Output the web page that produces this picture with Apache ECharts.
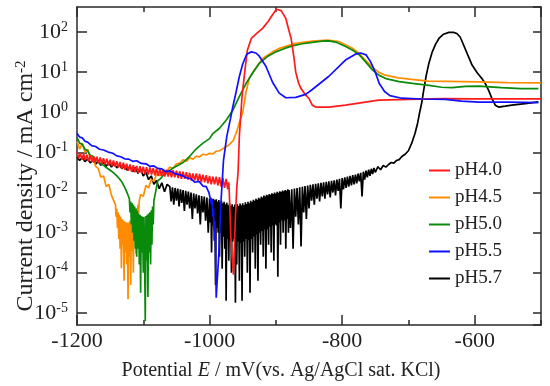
<!DOCTYPE html>
<html>
<head>
<meta charset="utf-8">
<script src="https://cdn.jsdelivr.net/npm/echarts@6/dist/echarts.min.js"></script>
<style>html,body{margin:0;padding:0;background:#fff}#c{width:550px;height:386px}</style>
</head>
<body>
<div id="c"></div>
<script>
// Potential E (mV) / current density (mA cm^-2)
const seriesNames = ['pH4.0', 'pH4.5', 'pH5.0', 'pH5.5', 'pH5.7'];
const seriesColors = ['#ff1a1a', '#ff8c00', '#0a8a0a', '#1010ff', '#000000'];
const xTicks = [-1200, -1000, -800, -600];

const ph40 = [[-1200,0.105],[-1197.5,0.07],[-1195,0.095],[-1192.5,0.066],[-1190,0.092],[-1187.5,0.064],[-1185,0.088],[-1182.5,0.06],[-1180,0.085],[-1177.5,0.058],[-1175,0.08],[-1172.5,0.056],[-1170,0.078],[-1167.5,0.054],[-1165,0.075],[-1162.5,0.052],[-1160,0.072],[-1157.5,0.05],[-1155,0.07],[-1152.5,0.048],[-1150,0.066],[-1147.5,0.046],[-1145,0.063],[-1142.5,0.044],[-1140,0.06],[-1137.5,0.042],[-1135,0.058],[-1132.5,0.039],[-1130,0.055],[-1127.5,0.037],[-1125,0.052],[-1122.5,0.035],[-1120,0.05],[-1117.5,0.033],[-1115,0.048],[-1112.5,0.032],[-1110,0.046],[-1107.5,0.031],[-1105,0.045],[-1102.5,0.03],[-1100,0.044],[-1097.5,0.029],[-1095,0.043],[-1092.5,0.028],[-1090,0.042],[-1087.5,0.028],[-1085,0.041],[-1082.5,0.027],[-1080,0.04],[-1077.5,0.026],[-1075,0.039],[-1072.5,0.026],[-1070,0.038],[-1067.5,0.025],[-1065,0.037],[-1062.5,0.025],[-1060,0.036],[-1057.5,0.024],[-1055,0.036],[-1052.5,0.024],[-1050,0.035],[-1047.5,0.023],[-1045,0.034],[-1042.5,0.022],[-1040,0.033],[-1037.5,0.022],[-1035,0.032],[-1032.5,0.021],[-1030,0.031],[-1027.5,0.02],[-1025,0.03],[-1022.5,0.02],[-1020,0.03],[-1017.5,0.019],[-1015,0.029],[-1012.5,0.018],[-1010,0.028],[-1007.5,0.018],[-1005,0.027],[-1002.5,0.017],[-1000,0.026],[-997.5,0.016],[-995,0.025],[-992.5,0.016],[-990,0.025],[-987.5,0.015],[-985,0.024],[-982.5,0.014],[-980,0.023],[-977.5,0.013],[-975,0.022],[-972.5,0.012],[-971,0.018],[-969.5,5.0e-3],[-968,8.0e-4],[-966,2.5e-4],[-964,9.0e-5],[-963,3.0e-4],[-961,2.5e-3],[-959,1.3e-2],[-957,3.2e-2],[-955,2.7e-1],[-951,2.5],[-947,10],[-943,35],[-937,69],[-928,95],[-920,123],[-912,180],[-905,270],[-899,370],[-896,390],[-892,340],[-885,219],[-881,120],[-877,69],[-873,25],[-870,10],[-866,5.5],[-862,3.9],[-856,2.8],[-850,2.2],[-845,1.5],[-840,1.35],[-820,1.35],[-795,1.5],[-745,2.0],[-700,2.1],[-645,2.2],[-600,2.15],[-500,2.15]];

const ph45 = [[-1200,1.9e-1],[-1196,1.2e-1],[-1192,1.7e-1],[-1188,1.0e-1],[-1184,1.2e-1],[-1180,7.0e-2],[-1176,8.0e-2],[-1172,4.5e-2],[-1168,4.0e-2],[-1164,2.4e-2],[-1160,2.6e-2],[-1156,1.4e-2],[-1152,1.6e-2],[-1148,8.5e-3],[-1145,8.0e-3],
[-1142,5.0e-3],[-1141,2.5e-3],[-1140,4.0e-3],[-1139,1.3e-3],[-1138,3.2e-3],[-1137,7.0e-4],[-1136,2.8e-3],[-1135,4.0e-4],[-1134,2.5e-3],[-1133,1.3e-4],[-1132,2.2e-3],[-1131,5.0e-4],[-1130,2.0e-3],[-1129,6.3e-5],[-1128,1.9e-3],[-1127,3.2e-4],[-1126,1.8e-3],[-1125,1.6e-4],[-1124,1.8e-3],[-1123,2.2e-5],[-1122,1.8e-3],[-1121,2.5e-4],[-1120,2.0e-3],[-1119,5.0e-5],[-1118,2.0e-3],[-1117,3.5e-4],[-1116,2.4e-3],[-1115,1.0e-4],[-1114,2.8e-3],[-1113,6.0e-4],[-1112,3.2e-3],[-1111,3.0e-4],[-1110,4.0e-3],[-1109,1.3e-3],[-1108,5.0e-3],[-1107,3.0e-3],[-1106,6.3e-3],[-1104,9.0e-3],
[-1100,8.0e-3],[-1096,1.5e-2],[-1092,1.3e-2],[-1088,2.1e-2],[-1084,1.9e-2],[-1080,2.9e-2],[-1075,2.6e-2],[-1070,3.6e-2],[-1065,3.3e-2],[-1060,4.3e-2],[-1055,3.9e-2],[-1050,5.2e-2],[-1045,5.4e-2],[-1040,6.5e-2],[-1035,6.0e-2],[-1030,7.3e-2],[-1025,6.8e-2],[-1020,8.1e-2],[-1015,7.7e-2],[-1010,9.0e-2],[-1005,8.6e-2],[-1000,9.5e-2],[-995,9.2e-2],[-990,1.07e-1],[-985,1.1e-1],[-980,1.23e-1],[-970,1.58e-1],[-964,2.0e-1],[-960,3.0e-1],[-957,4.3e-1],[-954,6.3e-1],[-950,1.0],[-945,3.2],[-940,7.1],[-933,11],[-920,22],[-905,32],[-895,39],[-870,52],[-845,59],[-822,63],[-805,58],[-795,48],[-785,40],[-775,30],[-765,20],[-755,13.5],[-745,10],[-735,8.4],[-715,7.2],[-695,6.6],[-670,6.0],[-640,5.9],[-595,5.75],[-550,5.5],[-500,5.4]];

const ph50 = [[-1200,2.34e-1],[-1196,1.7e-1],[-1192,1.6e-1],[-1188,1.2e-1],[-1184,1.1e-1],[-1180,8.5e-2],[-1176,8.0e-2],[-1172,6.6e-2],[-1168,6.0e-2],[-1164,5.2e-2],[-1160,4.8e-2],[-1156,4.2e-2],[-1152,3.8e-2],[-1148,3.4e-2],[-1144,3.0e-2],[-1140,2.6e-2],[-1136,2.2e-2],[-1132,1.8e-2],[-1128,1.35e-2],[-1124,9.5e-3],
[-1121,7.0e-3],[-1120,3.2e-3],[-1119,6.0e-3],[-1118,1.6e-3],[-1117,5.5e-3],[-1116,1.0e-3],[-1115,5.0e-3],[-1114,6.3e-4],[-1113,4.5e-3],[-1112,4.0e-4],[-1111,4.0e-3],[-1110,2.5e-4],[-1109,3.5e-3],[-1108,4.0e-4],[-1107,3.0e-3],[-1106,1.6e-4],[-1105,2.8e-3],[-1104,3.2e-5],[-1103,2.6e-3],[-1102,3.2e-4],[-1101,2.5e-3],[-1100,1.0e-4],[-1099,2.5e-3],[-1098,2.5e-4],[-1097,6.3e-6],[-1096,2.6e-3],[-1095,2.0e-4],[-1094,2.8e-3],[-1093,2.5e-5],[-1092,3.0e-3],[-1091,3.2e-4],[-1090,3.2e-3],[-1089,1.6e-4],[-1088,3.6e-3],[-1087,5.0e-4],[-1086,4.5e-3],[-1085,1.6e-3],[-1084,6.3e-3],[-1083,7.6e-3],
[-1078,2.0e-2],[-1074,2.2e-2],[-1068,3.0e-2],[-1063,3.2e-2],[-1056,4.0e-2],[-1048,4.7e-2],[-1040,5.6e-2],[-1030,8.0e-2],[-1020,1.23e-1],[-1010,1.7e-1],[-1000,2.2e-1],[-995,2.95e-1],[-985,4.0e-1],[-975,6.3e-1],[-965,1.12],[-955,2.5],[-945,5.2],[-935,9.5],[-925,16.6],[-912,25],[-900,32],[-887,39],[-875,45],[-860,51],[-845,55],[-830,59],[-820,60],[-808,55],[-794,43],[-784,35],[-774,27],[-764,17.5],[-754,11.2],[-744,8.3],[-734,6.9],[-714,5.8],[-694,5.25],[-669,4.7],[-650,4.2],[-634,4.1],[-614,4.4],[-594,4.5],[-560,4.1],[-530,3.9],[-504,3.9]];

const ph55 = [[-1200,3.0e-1],[-1196,2.4e-1],[-1192,2.3e-1],[-1188,1.9e-1],[-1184,1.8e-1],[-1178,1.48e-1],[-1172,1.4e-1],[-1166,1.2e-1],[-1160,1.15e-1],[-1153,1.02e-1],[-1146,9.5e-2],[-1140,8.2e-2],[-1134,7.8e-2],[-1128,6.9e-2],[-1122,6.8e-2],[-1116,6.0e-2],[-1110,6.2e-2],[-1103,5.3e-2],[-1096,5.2e-2],[-1090,4.5e-2],[-1084,4.6e-2],[-1078,4.0e-2],[-1072,3.9e-2],[-1066,3.3e-2],[-1060,3.5e-2],[-1053,3.0e-2],[-1046,2.8e-2],[-1040,2.6e-2],[-1034,2.3e-2],[-1028,2.2e-2],[-1022,1.8e-2],[-1016,1.9e-2],[-1010,1.45e-2],[-1005,1.4e-2],[-1001,1.0e-2],[-999,1.12e-2],[-997,5.0e-3],[-996,7.0e-3],[-995,2.5e-3],[-994,4.0e-3],[-993,6.3e-4],[-992,2.0e-3],[-991,4.0e-4],[-990,2.4e-5],[-988.5,2.6e-5],[-986,3.0e-4],[-983,5.2e-3],[-979,6.3e-2],[-974,2.5e-1],[-969,6.3e-1],[-965,1.35],[-960,3.2],[-955,7.9],[-950,16],[-944,28],[-937,32],[-930,30],[-925,25],[-915,14],[-905,5.6],[-895,3.0],[-885,2.3],[-870,2.35],[-855,2.8],[-845,3.7],[-820,7.9],[-795,20],[-780,28],[-772,30],[-764,27],[-757,18],[-750,10],[-744,5.2],[-736,3.3],[-728,2.6],[-710,2.24],[-680,2.14],[-644,2.1],[-620,1.9],[-594,1.8],[-550,1.78],[-504,1.74]];

const ph57 = [[-1200,7.6e-2],[-1196,6.3e-2],[-1192,7.4e-2],[-1188,5.9e-2],[-1184,6.9e-2],[-1180,5.5e-2],[-1176,6.4e-2],[-1172,5.1e-2],[-1168,6.0e-2],[-1164,4.8e-2],[-1160,5.7e-2],[-1156,4.5e-2],[-1152,5.5e-2],[-1148,4.3e-2],[-1144,5.3e-2],[-1140,4.1e-2],[-1136,5.0e-2],[-1132,3.9e-2],[-1128,4.7e-2],[-1124,3.6e-2],[-1120,4.5e-2],[-1116,3.3e-2],[-1112,4.2e-2],[-1108,3.0e-2],[-1104,3.8e-2],[-1100,2.6e-2],[-1096,3.2e-2],[-1092,2.1e-2],[-1088,2.6e-2],[-1084,1.6e-2],[-1080,2.0e-2],[-1076,1.25e-2],[-1072,1.75e-2],[-1068,1.05e-2],[-1064,1.6e-2],
[-1060,1.4e-2],[-1058,6.0e-3],[-1056,1.35e-2],[-1054,5.0e-3],[-1052,1.3e-2],[-1050,6.3e-3],[-1048,1.25e-2],[-1046,4.5e-3],[-1044,1.2e-2],[-1042,5.5e-3],[-1040,1.15e-2],[-1038,3.5e-3],[-1036,1.1e-2],[-1034,5.0e-3],[-1032,1.05e-2],[-1030,4.0e-3],[-1028,1.0e-2],[-1026,2.2e-3],[-1024,9.5e-3],[-1022,4.0e-3],[-1020,9.0e-3],[-1018,3.0e-3],[-1016,8.5e-3],[-1014,1.6e-3],[-1012,8.2e-3],[-1010,3.2e-3],[-1008,7.9e-3],[-1006,2.0e-3],[-1004,7.5e-3],[-1002,1.0e-3],
[-1000,7.1e-3],[-999,1.8e-3],[-998,7.4e-3],[-997,3.2e-4],[-996,6.6e-3],[-995,1.5e-3],[-994,7.0e-3],[-993,1.2e-3],[-992,6.4e-3],[-991,5.0e-5],[-990,6.8e-3],[-989,1.3e-3],[-988,6.0e-3],[-987,1.0e-3],[-986,6.5e-3],[-985,2.5e-4],[-984,5.7e-3],[-983,1.0e-3],[-982,6.2e-3],[-981,1.26e-4],[-980,5.4e-3],[-979,8.0e-4],[-978,5.9e-3],[-977,4.0e-4],[-976,5.1e-3],[-975,2.0e-5],[-974,5.6e-3],[-973,7.0e-4],[-972,4.8e-3],[-971,2.0e-4],[-970,5.3e-3],[-969,6.3e-4],[-968,4.6e-3],[-967,1.0e-4],[-966,5.1e-3],[-965,6.0e-4],[-964,4.4e-3],[-963,7.0e-4],[-962,5.0e-3],[-961,1.8e-5],[-960,4.4e-3],[-959,1.6e-4],[-958,5.1e-3],[-957,6.0e-4],[-956,4.6e-3],[-955,6.3e-5],[-954,5.3e-3],[-953,5.6e-4],[-952,4.8e-3],[-951,2.0e-5],[-950,5.4e-3],[-949,6.0e-4],[-948,4.9e-3],[-947,2.5e-4],[-946,5.7e-3],[-945,7.0e-4],[-944,5.2e-3],[-943,1.0e-4],[-942,5.9e-3],[-941,6.5e-4],[-940,5.4e-3],[-939,3.2e-5],[-938,6.2e-3],[-937,7.0e-4],[-936,5.8e-3],[-935,3.2e-4],[-934,6.6e-3],[-933,8.0e-4],[-932,6.2e-3],[-931,1.26e-4],[-930,7.0e-3],[-929,9.0e-4],[-928,6.6e-3],[-927,6.3e-5],[-926,7.4e-3],[-925,1.0e-3],[-924,7.0e-3],[-923,5.0e-4],[-922,7.9e-3],[-921,1.1e-3],[-920,7.5e-3],[-919,2.5e-4],[-918,8.4e-3],[-917,1.2e-3],[-916,8.0e-3],[-915,1.26e-4],[-914,8.8e-3],[-913,1.2e-3],[-912,8.4e-3],[-911,5.0e-4],[-910,9.2e-3],[-909,1.4e-3],[-908,8.8e-3],[-907,3.2e-4],[-906,9.6e-3],[-905,1.5e-3],[-904,9.2e-3],[-903,2.0e-4],[-902,1.0e-2],[-901,1.6e-3],[-900,9.5e-3],[-899,1.5e-3],[-898,1.04e-2],[-897,8.0e-5],[-896,9.9e-3],[-895,1.8e-3],[-894,1.08e-2],[-893,5.0e-4],[-892,1.03e-2],[-891,2.0e-3],[-890,1.12e-2],[-889,1.0e-3],[-888,1.07e-2],[-887,2.0e-3],[-886,1.16e-2],[-885,4.0e-4],[-884,1.1e-2],[-883,2.2e-3],[-882,1.2e-2],[-881,1.0e-3],
[-880,1.15e-2],[-878,1.3e-3],[-876,1.2e-2],[-874,4.0e-4],[-872,1.25e-2],[-870,2.5e-3],[-868,1.3e-2],[-866,1.6e-3],[-864,1.35e-2],[-862,4.5e-4],[-860,1.4e-2],[-858,3.2e-3],[-856,1.45e-2],[-854,2.2e-3],[-852,1.5e-2],[-850,4.0e-3],[-848,1.55e-2],[-846,6.3e-3],[-844,1.6e-2],[-842,5.0e-3],[-840,1.65e-2],[-838,7.0e-3],[-836,1.7e-2],[-834,6.0e-3],[-832,1.75e-2],[-830,8.0e-3],[-828,1.8e-2],[-826,7.0e-3],[-824,1.85e-2],[-822,9.0e-3],[-820,1.9e-2],[-818,7.5e-3],[-816,1.95e-2],[-814,1.0e-2],[-812,2.0e-2],[-810,8.5e-3],[-808,2.1e-2],[-806,1.1e-2],[-804,2.2e-2],[-802,4.0e-3],[-800,2.3e-2],[-798,1.2e-2],[-796,2.4e-2],[-794,1.3e-2],[-792,2.5e-2],[-790,1.4e-2],[-788,2.6e-2],[-786,1.5e-2],[-784,2.7e-2],[-782,1.6e-2],[-780,2.8e-2],[-778,1.7e-2],[-776,2.95e-2],[-774,1.9e-2],[-772,3.1e-2],[-770,8.0e-3],[-768,3.3e-2],[-766,2.1e-2],[-764,3.5e-2],[-762,2.4e-2],[-760,3.7e-2],[-758,2.6e-2],[-756,3.9e-2],[-754,2.9e-2],[-752,4.1e-2],[-750,3.2e-2],[-746,4.4e-2],[-742,3.7e-2],[-738,4.7e-2],[-734,4.3e-2],[-730,5.0e-2],
[-726,5.6e-2],[-722,5.4e-2],[-718,6.3e-2],[-714,6.6e-2],[-710,7.9e-2],[-705,9.0e-2],[-700,1.1e-1],[-695,1.7e-1],[-690,3.0e-1],[-686,5.5e-1],[-683,1.0],[-680,1.7],[-677,3.5],[-673,8.5],[-669,17],[-664,32],[-659,50],[-654,69],[-647,88],[-639,98],[-632,98],[-627,92],[-622,75],[-619,58],[-611,28],[-604,15],[-596,9.5],[-589,6.9],[-584,5.2],[-579,3.5],[-574,2.2],[-569,1.5],[-564,1.35],[-554,1.42],[-544,1.5],[-524,1.65],[-504,1.82]];

const seriesData = [ph40, ph45, ph50, ph55, ph57];
const drawOrder = [4, 1, 2, 0, 3];

const FONT = 'Liberation Serif';
const AX = '#2a2a2a';

function superExp(v) {
  const l = Math.log10(v);
  const r = Math.round(l);
  if (Math.abs(l - r) > 1e-6) return '';
  return '{b|10}{s|' + r + '}';
}

const chart = echarts.init(document.getElementById('c'), null, {renderer: 'canvas'});
const gridBox = {left: 77, right: 9, top: 7, bottom: 61, containLabel: false, outerBoundsMode: 'none'};

const option = {
  animation: false,
  backgroundColor: '#fff',
  grid: [Object.assign({}, gridBox), Object.assign({}, gridBox)],
  legend: {
    data: seriesNames,
    orient: 'vertical',
    left: 424,
    top: 156,
    itemWidth: 21,
    itemHeight: 2,
    itemGap: 8,
    icon: 'rect',
    textStyle: {fontFamily: FONT, fontSize: 19, color: '#222'}
  },
  xAxis: [
    {gridIndex: 0, type: 'value', position: 'bottom', min: -1200, max: -500, interval: 100,
     axisLine: {lineStyle: {color: AX, width: 1.5}}, axisTick: {inside: true, length: 5, lineStyle: {color: AX, width: 1.5}},
     axisLabel: {show: false}, splitLine: {show: false},
     name: 'Potential {i|E} / mV(vs. Ag/AgCl sat. KCl)', nameLocation: 'middle', nameGap: 36,
     nameTextStyle: {fontFamily: FONT, fontSize: 20, color: '#222', padding: [0, 56, 0, 0],
       rich: {i: {fontFamily: FONT, fontSize: 20, fontStyle: 'italic', color: '#222'}}}},
    {gridIndex: 0, type: 'value', position: 'top', min: -1200, max: -500, interval: 100,
     axisLine: {lineStyle: {color: AX, width: 1.5}}, axisTick: {inside: true, length: 5, lineStyle: {color: AX, width: 1.5}},
     axisLabel: {show: false}, splitLine: {show: false}},
    {gridIndex: 1, type: 'value', position: 'bottom', min: -1200, max: -500, interval: 200,
     axisLine: {show: false}, axisTick: {inside: true, length: 10, lineStyle: {color: AX, width: 1.5}},
     axisLabel: {fontFamily: FONT, fontSize: 22, color: '#222', margin: 5, showMaxLabel: false,
       formatter: v => xTicks.indexOf(v) >= 0 ? String(v) : ''}, splitLine: {show: false}},
    {gridIndex: 1, type: 'value', position: 'top', min: -1200, max: -500, interval: 200,
     axisLine: {show: false}, axisTick: {inside: true, length: 10, lineStyle: {color: AX, width: 1.5}},
     axisLabel: {show: false}, splitLine: {show: false}}
  ],
  yAxis: [
    {gridIndex: 0, type: 'log', logBase: 10, position: 'left', min: 5e-6, max: 420,
     axisLine: {show: true, lineStyle: {color: AX, width: 1.5}}, axisTick: {show: true, inside: true, length: 10, lineStyle: {color: AX, width: 1.5}},
     splitLine: {show: false}, minorTick: {show: false},
     axisLabel: {margin: 9, showMinLabel: false, showMaxLabel: false, formatter: superExp,
       rich: {b: {fontFamily: FONT, fontSize: 22, color: '#222', lineHeight: 24},
              s: {fontFamily: FONT, fontSize: 14, color: '#222', verticalAlign: 'top', lineHeight: 14}}},
     name: 'Current density / mA cm{s|-2}', nameLocation: 'middle', nameGap: 39, nameRotate: 90,
     nameMoveOverlap: false,
     nameTextStyle: {fontFamily: FONT, fontSize: 24, color: '#222', padding: [0, 40, 0, 0],
       rich: {s: {fontFamily: FONT, fontSize: 15, color: '#222', verticalAlign: 'top'}}}},
    {gridIndex: 0, type: 'log', logBase: 10, position: 'right', min: 5e-6, max: 420,
     axisLine: {show: true, lineStyle: {color: AX, width: 1.5}}, axisTick: {show: true, inside: true, length: 8, lineStyle: {color: AX, width: 1.5}},
     splitLine: {show: false}, axisLabel: {show: false}},
    {gridIndex: 1, type: 'value', show: false, min: 0, max: 1}
  ],
  series: drawOrder.map(k => ({
    name: seriesNames[k],
    type: 'line',
    xAxisIndex: 0,
    yAxisIndex: 0,
    data: seriesData[k],
    showSymbol: false,
    symbol: 'none',
    clip: true,
    lineStyle: {color: seriesColors[k], width: 1.7},
    itemStyle: {color: seriesColors[k]},
    emphasis: {disabled: true}
  }))
};
chart.setOption(option);
</script>
</body>
</html>
